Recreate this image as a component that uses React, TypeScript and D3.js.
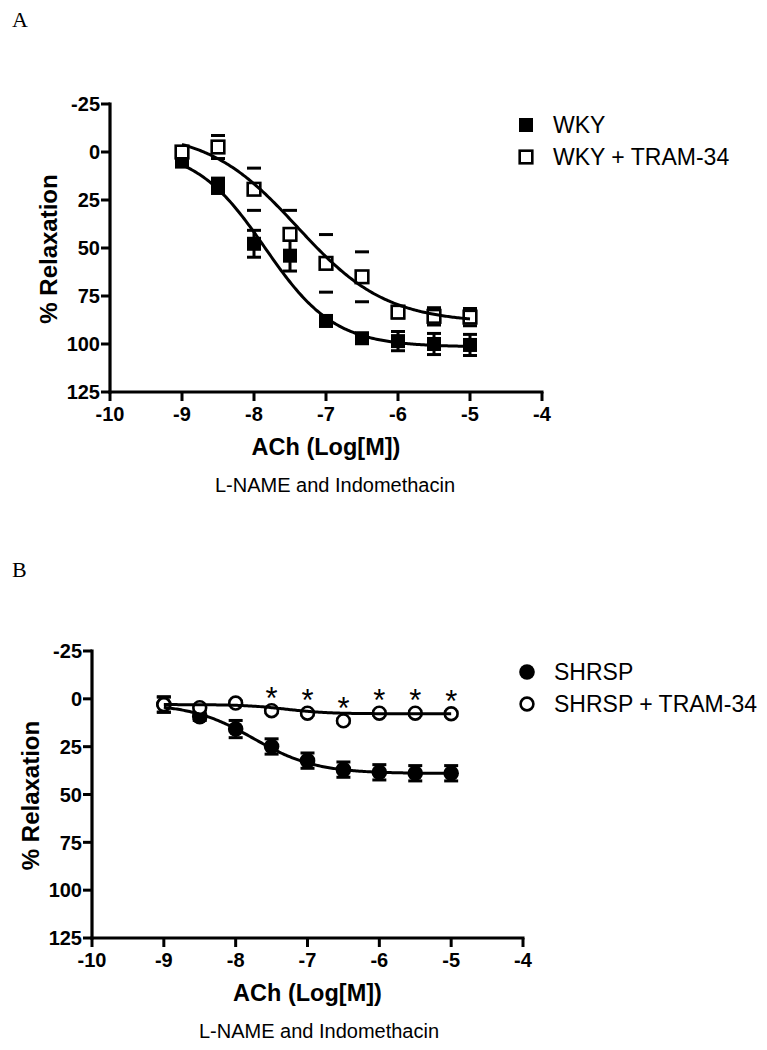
import React from "react";
import * as d3 from "d3";

const xTicks = [-10, -9, -8, -7, -6, -5, -4];
const yTicks = [-25, 0, 25, 50, 75, 100, 125];
const doses = [-9, -8.5, -8, -7.5, -7, -6.5, -6, -5.5, -5];

const wkyMean = [5, 17.6, 47.8, 54, 88, 97, 98.5, 100, 100.5];
const wkySem = [1.5, 4, 7, 8, 2, 2, 5, 5.5, 5.5];
const wkyTramMean = [0, -2.6, 19.4, 42.9, 58, 65, 83.4, 85.6, 86];
const wkyTramSem = [2, 6, 11, 12.5, 15, 13, 3, 4.5, 4.5];

const shrspMean = [3, 9.3, 15.8, 24.9, 32.3, 37, 38.4, 38.9, 38.9];
const shrspSem = [4, 2, 4.5, 4, 4, 4, 4, 4, 4];
const shrspTramMean = [3, 4.6, 2.2, 6.2, 7.5, 11.5, 7.5, 7.5, 7.8];
const shrspTramSem = [4, 1, 1, 1, 1, 1, 1, 1, 1];
const starDoses = [-7.5, -7, -6.5, -6, -5.5, -5];

// fitted sigmoid parameters: [bottom, top, logEC50, hill]
const wkyFit = [-2, 101.5, -7.85, 0.9];
const wkyTramFit = [-11, 89, -7.4, 0.7];
const shrspFit = [2.5, 39, -7.75, 1];
const shrspTramFit = [3, 7.8, -7.3, 1.5];

const SANS = "'Liberation Sans', Arial, Helvetica, sans-serif";

type Series = {
  name: string;
  mean: number[];
  sem: number[];
  fit: number[];
  shape: "square" | "circle";
  filled: boolean;
};

type PanelProps = {
  letter: string;
  letterY: number;
  xr: [number, number];
  yr: [number, number];
  series: Series[];
  legendX: number;
  legendY: number;
  stars?: { doses: number[]; ref: number[] };
  yTitleX: number;
  subtitleX: number;
};

function sig(p: number[], x: number) {
  const [b, t, ec, h] = p;
  return b + (t - b) / (1 + Math.pow(10, (ec - x) * h));
}

function Marker({ shape, filled, cx, cy }: { shape: string; filled: boolean; cx: number; cy: number }) {
  if (shape === "square") {
    return filled ? (
      <rect x={cx - 7} y={cy - 7} width={14} height={14} fill="#000" />
    ) : (
      <rect x={cx - 6.3} y={cy - 6.3} width={12.6} height={12.6} fill="#fff" stroke="#000" strokeWidth={2.6} />
    );
  }
  return filled ? (
    <circle cx={cx} cy={cy} r={7.8} fill="#000" />
  ) : (
    <circle cx={cx} cy={cy} r={6.4} fill="#fff" stroke="#000" strokeWidth={2.6} />
  );
}

function Panel(p: PanelProps) {
  const x = d3.scaleLinear().domain([-10, -4]).range(p.xr);
  const y = d3.scaleLinear().domain([-25, 125]).range(p.yr);
  const x0 = p.xr[0];
  const yBase = p.yr[1];
  const samples = d3.range(0, 201).map((i) => -9 + (4 * i) / 200);
  const curve = (fit: number[]) =>
    d3
      .line<number>()
      .x((d) => x(d))
      .y((d) => y(sig(fit, d)))(samples) || "";
  return (
    <g>
      <text x={12} y={p.letterY} fontFamily="'Liberation Serif', 'Times New Roman', serif" fontSize={22}>
        {p.letter}
      </text>
      {/* axes */}
      <line x1={x0} x2={x0} y1={p.yr[0] - 1.5} y2={yBase + 1.5} stroke="#000" strokeWidth={3.2} />
      <line x1={x0 - 1.5} x2={p.xr[1] + 1.5} y1={yBase} y2={yBase} stroke="#000" strokeWidth={3.2} />
      {yTicks.map((t) => (
        <g key={"y" + t}>
          <line x1={x0 - 9} x2={x0} y1={y(t)} y2={y(t)} stroke="#000" strokeWidth={3} />
          <text
            x={x0 - 10}
            y={y(t)}
            dy="0.36em"
            textAnchor="end"
            fontFamily={SANS}
            fontWeight="bold"
            fontSize={20}
          >
            {t}
          </text>
        </g>
      ))}
      {xTicks.map((t) => (
        <g key={"x" + t}>
          <line x1={x(t)} x2={x(t)} y1={yBase} y2={yBase + 9} stroke="#000" strokeWidth={3} />
          <text
            x={x(t)}
            y={yBase + 29}
            textAnchor="middle"
            fontFamily={SANS}
            fontWeight="bold"
            fontSize={20}
          >
            {t}
          </text>
        </g>
      ))}
      <text
        x={(p.xr[0] + p.xr[1]) / 2}
        y={yBase + 63}
        textAnchor="middle"
        fontFamily={SANS}
        fontWeight="bold"
        fontSize={23.5}
      >
        ACh (Log[M])
      </text>
      <text x={p.subtitleX} y={yBase + 100} textAnchor="middle" fontFamily={SANS} fontSize={20}>
        L-NAME and Indomethacin
      </text>
      <text
        transform={`translate(${p.yTitleX},${(p.yr[0] + p.yr[1]) / 2 + 1}) rotate(-90)`}
        textAnchor="middle"
        dy="0.36em"
        fontFamily={SANS}
        fontWeight="bold"
        fontSize={24}
      >
        % Relaxation
      </text>
      {/* error bars (open symbols hide their stems) */}
      {p.series.map((s) =>
        doses.map((d, i) => {
          const lo = y(s.mean[i] - s.sem[i]);
          const hi = y(s.mean[i] + s.sem[i]);
          return (
            <g key={s.name + "e" + i}>
              {s.filled && <line x1={x(d)} x2={x(d)} y1={lo} y2={hi} stroke="#000" strokeWidth={3} />}
              <line x1={x(d) - 7} x2={x(d) + 7} y1={lo} y2={lo} stroke="#000" strokeWidth={3} />
              <line x1={x(d) - 7} x2={x(d) + 7} y1={hi} y2={hi} stroke="#000" strokeWidth={3} />
            </g>
          );
        })
      )}
      {/* markers */}
      {p.series.map((s) =>
        doses.map((d, i) => (
          <Marker key={s.name + "m" + i} shape={s.shape} filled={s.filled} cx={x(d)} cy={y(s.mean[i])} />
        ))
      )}
      {/* fitted curves */}
      {p.series.map((s) => (
        <path key={s.name + "c"} d={curve(s.fit)} fill="none" stroke="#000" strokeWidth={3} />
      ))}
      {p.stars &&
        p.stars.doses.map((d) => {
          const i = doses.indexOf(d);
          return (
            <text
              key={"s" + d}
              x={x(d)}
              y={y(p.stars!.ref[i]) - 2}
              textAnchor="middle"
              fontFamily={SANS}
              fontSize={31}
            >
              *
            </text>
          );
        })}
      {/* legend */}
      {p.series.map((s, i) => (
        <g key={s.name + "l"}>
          <Marker shape={s.shape} filled={s.filled} cx={p.legendX} cy={p.legendY + i * 32} />
          <text
            x={p.legendX + 27}
            y={p.legendY + i * 32}
            dy="0.36em"
            fontFamily={SANS}
            fontSize={23}
          >
            {s.name}
          </text>
        </g>
      ))}
    </g>
  );
}

export default function App() {
  const seriesA: Series[] = [
    { name: "WKY", mean: wkyMean, sem: wkySem, fit: wkyFit, shape: "square", filled: true },
    { name: "WKY + TRAM-34", mean: wkyTramMean, sem: wkyTramSem, fit: wkyTramFit, shape: "square", filled: false },
  ];
  const seriesB: Series[] = [
    { name: "SHRSP", mean: shrspMean, sem: shrspSem, fit: shrspFit, shape: "circle", filled: true },
    {
      name: "SHRSP + TRAM-34",
      mean: shrspTramMean,
      sem: shrspTramSem,
      fit: shrspTramFit,
      shape: "circle",
      filled: false,
    },
  ];
  return (
    <svg
      width={767}
      height={1050}
      style={{ position: "absolute", left: 0, top: 0, background: "#fff" }}
    >
      <rect width={767} height={1050} fill="#fff" />
      <Panel
        letter="A"
        letterY={27}
        xr={[110, 542]}
        yr={[104, 392]}
        series={seriesA}
        legendX={526}
        legendY={125}
        yTitleX={48}
        subtitleX={335}
      />
      <Panel
        letter="B"
        letterY={577}
        xr={[92, 523]}
        yr={[651, 938]}
        series={seriesB}
        legendX={527}
        legendY={672}
        stars={{ doses: starDoses, ref: shrspTramMean }}
        yTitleX={30}
        subtitleX={319}
      />
    </svg>
  );
}
